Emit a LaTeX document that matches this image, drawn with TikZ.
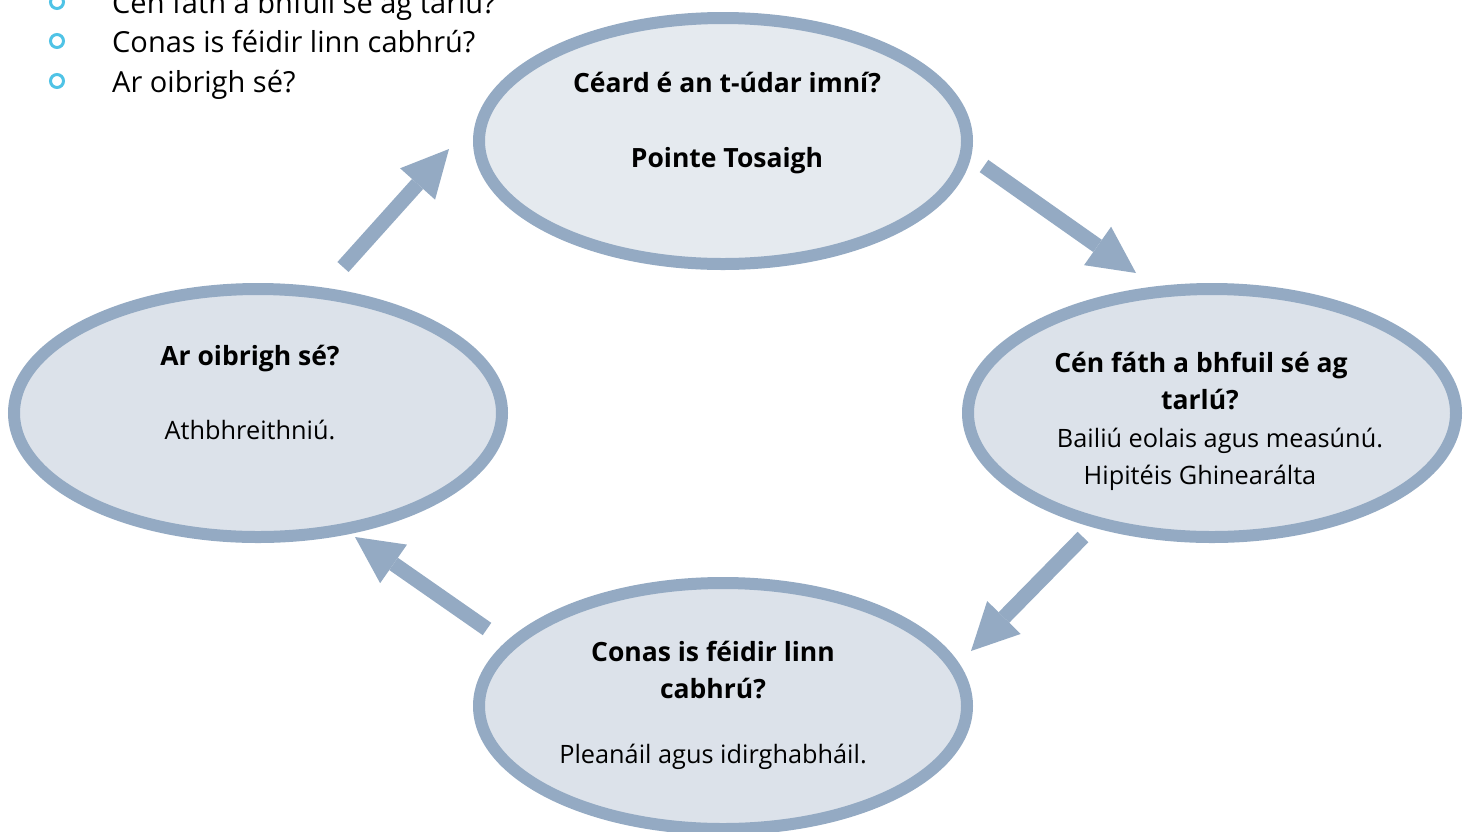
\documentclass[tikz,border=0pt]{standalone}
\usepackage{fontspec}
\setmainfont{Open Sans}
\usetikzlibrary{shapes.geometric,arrows.meta}
\definecolor{edgeblue}{HTML}{94AAC3}
\definecolor{filltop}{HTML}{E5EAEF}
\definecolor{fillrest}{HTML}{DCE2EA}
\definecolor{bulletcyan}{HTML}{4FC3E6}
\tikzset{
  ell/.style={ellipse, draw=edgeblue, line width=12pt, fill=fillrest, inner sep=0pt, outer sep=0pt},
  txt/.style={anchor=base, inner sep=0pt, font=\fontsize{25.3}{30}\selectfont},
  btxt/.style={txt, font=\fontsize{26.5}{30}\selectfont\bfseries},
  ltxt/.style={anchor=base west, inner sep=0pt, font=\fontsize{29}{34}\selectfont},
  bul/.style={circle, draw=bulletcyan, line width=3pt, minimum size=13pt, inner sep=0pt},
  barrow/.style={draw=edgeblue, line width=15pt, -{Triangle[width=47pt,length=47pt,line width=0pt,fill=edgeblue]}}
}
\begin{document}
\begin{tikzpicture}[x=1pt,y=-1pt]
\useasboundingbox (0,0) rectangle (1468,831);
\clip (0,0) rectangle (1468,831);
% bullet list
\node[bul] (b1) at (57,2) {};
\node[bul] (b2) at (57,41) {};
\node[bul] (b3) at (57,81) {};
\node[ltxt] (l1) at (112,13) {Cén fáth a bhfuil sé ag tarlú?};
\node[ltxt] (l2) at (112,52) {Conas is féidir linn cabhrú?};
\node[ltxt] (l3) at (112,92) {Ar oibrigh sé?};
% ellipses
\node[ell, fill=filltop, minimum width=488pt, minimum height=246pt] (top) at (723,141) {};
\node[ell, minimum width=488pt, minimum height=248pt] (right) at (1212,413) {};
\node[ell, minimum width=488pt, minimum height=248pt] (left) at (258,413) {};
\node[ell, minimum width=488pt, minimum height=246pt] (bottom) at (723,706) {};
% texts
\node[btxt] (t1) at (727,92) {Céard é an t-údar imní?};
\node[btxt] (t2) at (727,167) {Pointe Tosaigh};
\node[btxt] (r1) at (1201,372) {Cén fáth a bhfuil sé ag};
\node[btxt] (r2) at (1200,409) {tarlú?};
\node[txt] (r3) at (1220,447) {Bailiú eolais agus measúnú.};
\node[txt] (r4) at (1200,484) {Hipitéis Ghinearálta};
\node[btxt] (m1) at (250,365) {Ar oibrigh sé?};
\node[txt] (m2) at (250,439) {Athbhreithniú.};
\node[btxt] (d1) at (713,661) {Conas is féidir linn};
\node[btxt] (d2) at (713,698) {cabhrú?};
\node[txt] (d3) at (713,763) {Pleanáil agus idirghabháil.};
% arrows
\coordinate (a1s) at (343,267); \coordinate (a1e) at (449,149);
\coordinate (a2s) at (984,166); \coordinate (a2e) at (1136,273);
\coordinate (a3s) at (1083,537); \coordinate (a3e) at (971,651);
\coordinate (a4s) at (487,629); \coordinate (a4e) at (355,537);
\draw[barrow] (a1s) -- (a1e);
\draw[barrow] (a2s) -- (a2e);
\draw[barrow] (a3s) -- (a3e);
\draw[barrow] (a4s) -- (a4e);
\end{tikzpicture}
\end{document}
